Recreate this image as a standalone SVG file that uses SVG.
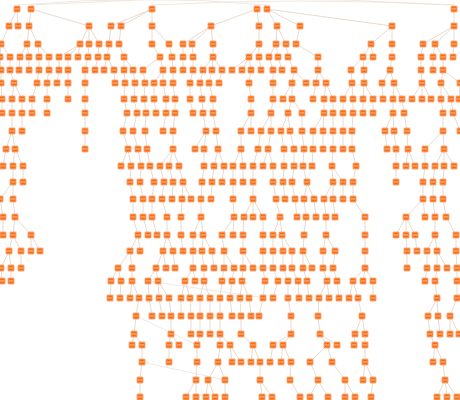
<svg xmlns="http://www.w3.org/2000/svg" xmlns:xlink="http://www.w3.org/1999/xlink" width="460" height="400" viewBox="0 0 460 400">
<style>
.e{fill:none;stroke:#e4d6ca;stroke-width:0.9}
.x{fill:none;stroke:#ece2d9;stroke-width:0.8}
</style>
<defs>
<g id="nd"><rect x="-3" y="-3" width="6" height="6" rx="0.5" fill="#fb6b12" stroke="#f8ac7c" stroke-width="1"/><rect x="-2" y="-0.6" width="4" height="1.1" fill="#fcb98c"/></g>
</defs>
<rect width="460" height="400" fill="#ffffff"/>
<g id="connectors">
<path class="x" d="M17 5Q150 -6 267 5M31 5Q240 -8 454 5M152 5Q300 -3 454 5M136 316L197 345M142 362L225 380M148 281L265 298"/>
<path class="e" d="M17 9L9 26M17 9L18 26M31 9L29 26M31 9L89 26M152 9L111 26M152 9L121 26M152 9L152 26M257 9L211 26M257 9L259 26M267 9L277 26M267 9L300 26M267 9L392 26M454 9L454 26"/>
<path class="e" d="M9 26L1 44M29 26L27 44M29 26L38 44M89 26L80 44M89 26L89 44M89 26L99 44M111 26L109 44M121 26L119 44M152 26L152 44M152 26L169 44M211 26L183 44M211 26L192 44M211 26L213 44M259 26L259 44M277 26L276 44M277 26L286 44M300 26L296 44M392 26L371 44M392 26L392 44M454 26L423 44M454 26L435 44M454 26L454 44"/>
<path class="e" d="M1 44L0 57M1 44L10 57M27 44L20 57M27 44L29 57M38 44L39 57M38 44L49 57M80 44L59 57M80 44L68 57M80 44L78 57M89 44L88 57M99 44L98 57M109 44L107 57M119 44L124 57M152 44L160 57M169 44L172 57M183 44L183 57M192 44L193 57M213 44L213 57M259 44L249 57M259 44L259 57M276 44L269 57M276 44L278 57M286 44L288 57M296 44L318 57M371 44L363 57M371 44L373 57M392 44L392 57M423 44L421 57M435 44L433 57M435 44L443 57M454 44L453 57"/>
<path class="e" d="M0 57L1 70M10 57L10 70M20 57L19 70M29 57L29 70M39 57L39 70M49 57L49 70M59 57L59 70M68 57L68 70M88 57L85 70M98 57L95 70M107 57L104 70M107 57L114 70M124 57L124 70M124 57L133 70M160 57L143 70M160 57L163 70M172 57L173 70M183 57L183 70M193 57L193 70M213 57L203 70M213 57L212 70M213 57L222 70M249 57L232 70M249 57L242 70M249 57L251 70M259 57L261 70M269 57L273 70M278 57L282 70M288 57L294 70M318 57L318 70M363 57L351 70M363 57L364 70M392 57L390 70M421 57L421 70M433 57L433 70M443 57L443 70"/>
<path class="e" d="M1 70L1 83M10 70L14 83M39 70L37 83M49 70L47 83M59 70L57 83M68 70L68 83M85 70L85 83M114 70L115 83M124 70L125 83M133 70L135 83M143 70L145 83M163 70L154 83M163 70L163 83M173 70L173 83M193 70L190 83M203 70L200 83M212 70L209 83M222 70L219 83M251 70L249 83M273 70L273 83M294 70L292 83M294 70L306 83M318 70L316 83M318 70L326 83M351 70L352 83M364 70L364 83M390 70L382 83M390 70L394 83M421 70L422 83M443 70L441 83M443 70L460 83"/>
<path class="e" d="M1 83L2 99M14 83L12 99M14 83L22 99M37 83L32 99M47 83L47 99M68 83L68 99M85 83L85 99M125 83L124 99M135 83L134 99M145 83L144 99M154 83L154 99M163 83L166 99M173 83L175 99M190 83L190 99M200 83L202 99M209 83L213 99M249 83L251 99M273 83L273 99M292 83L283 99M292 83L292 99M316 83L313 99M326 83L324 99M326 83L333 99M352 83L343 99M352 83L353 99M364 83L363 99M364 83L373 99M382 83L383 99M394 83L393 99M394 83L402 99M422 83L412 99M422 83L422 99M422 83L431 99M441 83L441 99M441 83L451 99M460 83L459 99"/>
<path class="e" d="M2 99L2 113M12 99L12 113M22 99L22 113M32 99L32 113M47 99L47 113M85 99L85 113M124 99L127 113M134 99L137 113M144 99L146 113M154 99L156 113M166 99L166 113M175 99L175 113M190 99L193 113M202 99L203 113M213 99L213 113M251 99L251 113M273 99L271 113M292 99L288 113M292 99L302 113M324 99L324 113M333 99L333 113M343 99L343 113M353 99L353 113M363 99L363 113M373 99L373 113M393 99L393 113M402 99L404 113M441 99L443 113M451 99L453 113"/>
<path class="e" d="M12 113L12 131M22 113L22 131M85 113L85 131M127 113L123 131M137 113L133 131M146 113L145 131M166 113L163 131M175 113L173 131M203 113L206 131M213 113L216 131M251 113L241 131M251 113L251 131M271 113L261 131M271 113L271 131M288 113L281 131M288 113L290 131M302 113L302 131M324 113L313 131M324 113L323 131M333 113L333 131M343 113L343 131M353 113L352 131M393 113L385 131M393 113L394 131M404 113L407 131M443 113L443 131M453 113L460 131"/>
<path class="e" d="M12 131L6 149M12 131L15 149M85 131L85 149M123 131L128 149M133 131L138 149M145 131L147 149M173 131L173 149M206 131L195 149M206 131L204 149M216 131L218 149M241 131L241 149M261 131L258 149M271 131L268 149M281 131L284 149M290 131L294 149M302 131L304 149M313 131L313 149M323 131L323 149M333 131L333 149M343 131L343 149M352 131L352 149M385 131L387 149M394 131L396 149M407 131L408 149M443 131L425 149M443 131L444 149"/>
<path class="e" d="M6 149L3 166M15 149L13 166M15 149L23 166M128 149L121 166M128 149L131 166M138 149L141 166M147 149L150 166M173 149L160 166M173 149L169 166M173 149L179 166M204 149L204 166M218 149L214 166M218 149L224 166M241 149L233 166M241 149L243 166M258 149L253 166M268 149L263 166M268 149L273 166M284 149L284 166M294 149L294 166M304 149L303 166M313 149L312 166M333 149L332 166M352 149L356 166M396 149L396 166M408 149L406 166M408 149L415 166M425 149L425 166M444 149L435 166M444 149L444 166M444 149L454 166"/>
<path class="e" d="M13 166L13 182M23 166L23 182M131 166L130 182M141 166L140 182M150 166L154 182M160 166L164 182M169 166L173 182M179 166L183 182M204 166L202 182M214 166L212 182M224 166L222 182M233 166L233 182M243 166L243 182M253 166L253 182M273 166L273 182M284 166L283 182M294 166L292 182M303 166L307 182M332 166L333 182M332 166L343 182M356 166L353 182M396 166L396 182M425 166L423 182M435 166L433 182M444 166L443 182"/>
<path class="e" d="M13 182L0 199M13 182L13 199M130 182L133 199M140 182L143 199M154 182L152 199M164 182L162 199M173 182L172 199M183 182L182 199M183 182L191 199M202 182L201 199M212 182L211 199M233 182L233 199M253 182L253 199M273 182L276 199M283 182L285 199M292 182L295 199M307 182L304 199M307 182L314 199M333 182L324 199M333 182L333 199M343 182L343 199M353 182L353 199M423 182L423 199M433 182L433 199M443 182L443 199"/>
<path class="e" d="M0 199L3 217M13 199L15 217M133 199L133 217M143 199L143 217M152 199L152 217M162 199L167 217M182 199L181 217M201 199L201 217M233 199L234 217M253 199L244 217M253 199L253 217M253 199L263 217M276 199L280 217M295 199L297 217M304 199L306 217M314 199L316 217M324 199L326 217M333 199L335 217M353 199L365 217M423 199L406 217M423 199L425 217M433 199L435 217M443 199L446 217"/>
<path class="e" d="M3 217L3 235M15 217L13 235M15 217L31 235M133 217L138 235M143 217L148 235M152 217L157 235M167 217L167 235M181 217L181 235M201 217L193 235M201 217L203 235M234 217L222 235M234 217L233 235M244 217L243 235M263 217L263 235M280 217L273 235M280 217L282 235M306 217L304 235M326 217L326 235M365 217L365 235M406 217L396 235M406 217L406 235M406 217L415 235M435 217L435 235M446 217L456 235"/>
<path class="e" d="M13 235L9 251M13 235L21 251M31 235L31 251M31 235L40 251M138 235L130 251M138 235L140 251M167 235L163 251M167 235L173 251M181 235L183 251M193 235L193 251M203 235L202 251M203 235L212 251M222 235L224 251M243 235L243 251M263 235L263 251M273 235L273 251M282 235L283 251M282 235L292 251M304 235L303 251M326 235L323 251M326 235L335 251M365 235L365 251M406 235L407 251M415 235L417 251M435 235L427 251M435 235L437 251M456 235L456 251"/>
<path class="e" d="M9 251L1 268M9 251L11 268M21 251L21 268M130 251L118 268M130 251L132 268M163 251L156 268M163 251L166 268M173 251L175 268M193 251L193 268M202 251L204 268M212 251L214 268M224 251L224 268M224 251L234 268M243 251L243 268M243 251L253 268M263 251L263 268M273 251L273 268M283 251L283 268M292 251L292 268M303 251L303 268M303 251L312 268M323 251L323 268M335 251L333 268M365 251L365 268M407 251L407 268M427 251L427 268M437 251L437 268M437 251L447 268M456 251L457 268"/>
<path class="e" d="M1 268L2 281M11 268L11 281M118 268L111 281M118 268L121 281M132 268L132 281M156 268L148 281M156 268L158 281M193 268L185 281M193 268L195 281M204 268L204 281M224 268L222 281M234 268L232 281M243 268L242 281M263 268L265 281M273 268L278 281M283 268L288 281M292 268L298 281M303 268L307 281M323 268L327 281M333 268L337 281M365 268L353 281M365 268L363 281M365 268L373 281M427 268L425 281M437 268L435 281M457 268L457 281"/>
<path class="e" d="M111 281L110 298M121 281L120 298M132 281L130 298M132 281L139 298M148 281L149 298M158 281L159 298M158 281L169 298M185 281L181 298M185 281L190 298M204 281L200 298M204 281L210 298M222 281L220 298M232 281L230 298M242 281L240 298M242 281L249 298M265 281L263 298M278 281L273 298M288 281L288 298M298 281L299 298M307 281L309 298M327 281L319 298M327 281L329 298M337 281L339 298M353 281L349 298M353 281L358 298M373 281L373 298M435 281L437 298M457 281L457 298"/>
<path class="e" d="M139 298L136 316M149 298L152 316M159 298L162 316M169 298L171 316M181 298L181 316M190 298L191 316M200 298L200 316M210 298L210 316M220 298L220 316M230 298L232 316M240 298L241 316M249 298L251 316M263 298L259 316M288 298L291 316M319 298L318 316M358 298L362 316M437 298L428 316M437 298L438 316M457 298L450 316"/>
<path class="e" d="M136 316L134 334M171 316L171 334M191 316L191 334M200 316L200 334M210 316L210 334M220 316L220 334M241 316L241 334M291 316L291 334M318 316L320 334M362 316L355 334M362 316L365 334M428 316L430 334M438 316L440 334M450 316L450 334M450 316L459 334"/>
<path class="e" d="M134 334L132 345M134 334L142 345M171 334L169 345M171 334L179 345M200 334L197 345M220 334L220 345M220 334L230 345M241 334L253 345M291 334L273 345M291 334L283 345M320 334L327 345M320 334L337 345M355 334L354 345M365 334L365 345M430 334L435 345"/>
<path class="e" d="M142 345L142 362M169 345L169 362M197 345L197 362M220 345L218 362M230 345L232 362M230 345L241 362M253 345L251 362M253 345L260 362M273 345L270 362M283 345L281 362M283 345L291 362M327 345L310 362M327 345L332 362M365 345L365 362M435 345L433 362M435 345L443 362"/>
<path class="e" d="M142 362L140 380M197 362L196 380M218 362L208 380M218 362L225 380M260 362L260 380M291 362L290 380M310 362L318 380M332 362L345 380M365 362L363 380M365 362L373 380M443 362L445 380"/>
<path class="e" d="M140 380L140 397M196 380L186 397M196 380L196 397M208 380L206 397M208 380L215 397M225 380L225 397M260 380L262 397M260 380L272 397M290 380L300 397M318 380L310 397M318 380L328 397M345 380L345 397M345 380L355 397M373 380L371 397M445 380L437 397M445 380L447 397M445 380L457 397"/>
</g>
<g id="nodes">
<g id="a1"><use href="#nd" x="17" y="9"/></g><g id="a2"><use href="#nd" x="31" y="9"/></g><g id="a3"><use href="#nd" x="152" y="9"/></g><g id="a4"><use href="#nd" x="257" y="9"/></g><g id="a5"><use href="#nd" x="267" y="9"/></g><g id="a6"><use href="#nd" x="454" y="9"/></g>
<g id="b1"><use href="#nd" x="9" y="26"/></g><g id="b2"><use href="#nd" x="18" y="26"/></g><g id="b3"><use href="#nd" x="29" y="26"/></g><g id="b4"><use href="#nd" x="89" y="26"/></g><g id="b5"><use href="#nd" x="111" y="26"/></g><g id="b6"><use href="#nd" x="121" y="26"/></g><g id="b7"><use href="#nd" x="152" y="26"/></g><g id="b8"><use href="#nd" x="211" y="26"/></g><g id="b9"><use href="#nd" x="259" y="26"/></g><g id="b10"><use href="#nd" x="277" y="26"/></g><g id="b11"><use href="#nd" x="300" y="26"/></g><g id="b12"><use href="#nd" x="392" y="26"/></g><g id="b13"><use href="#nd" x="454" y="26"/></g>
<g id="c1"><use href="#nd" x="1" y="44"/></g><g id="c2"><use href="#nd" x="27" y="44"/></g><g id="c3"><use href="#nd" x="38" y="44"/></g><g id="c4"><use href="#nd" x="80" y="44"/></g><g id="c5"><use href="#nd" x="89" y="44"/></g><g id="c6"><use href="#nd" x="99" y="44"/></g><g id="c7"><use href="#nd" x="109" y="44"/></g><g id="c8"><use href="#nd" x="119" y="44"/></g><g id="c9"><use href="#nd" x="152" y="44"/></g><g id="c10"><use href="#nd" x="169" y="44"/></g><g id="c11"><use href="#nd" x="183" y="44"/></g><g id="c12"><use href="#nd" x="192" y="44"/></g><g id="c13"><use href="#nd" x="213" y="44"/></g><g id="c14"><use href="#nd" x="259" y="44"/></g><g id="c15"><use href="#nd" x="276" y="44"/></g><g id="c16"><use href="#nd" x="286" y="44"/></g><g id="c17"><use href="#nd" x="296" y="44"/></g><g id="c18"><use href="#nd" x="371" y="44"/></g><g id="c19"><use href="#nd" x="392" y="44"/></g><g id="c20"><use href="#nd" x="423" y="44"/></g><g id="c21"><use href="#nd" x="435" y="44"/></g><g id="c22"><use href="#nd" x="454" y="44"/></g>
<g id="d1"><use href="#nd" x="0" y="57"/></g><g id="d2"><use href="#nd" x="10" y="57"/></g><g id="d3"><use href="#nd" x="20" y="57"/></g><g id="d4"><use href="#nd" x="29" y="57"/></g><g id="d5"><use href="#nd" x="39" y="57"/></g><g id="d6"><use href="#nd" x="49" y="57"/></g><g id="d7"><use href="#nd" x="59" y="57"/></g><g id="d8"><use href="#nd" x="68" y="57"/></g><g id="d9"><use href="#nd" x="78" y="57"/></g><g id="d10"><use href="#nd" x="88" y="57"/></g><g id="d11"><use href="#nd" x="98" y="57"/></g><g id="d12"><use href="#nd" x="107" y="57"/></g><g id="d13"><use href="#nd" x="124" y="57"/></g><g id="d14"><use href="#nd" x="160" y="57"/></g><g id="d15"><use href="#nd" x="172" y="57"/></g><g id="d16"><use href="#nd" x="183" y="57"/></g><g id="d17"><use href="#nd" x="193" y="57"/></g><g id="d18"><use href="#nd" x="213" y="57"/></g><g id="d19"><use href="#nd" x="249" y="57"/></g><g id="d20"><use href="#nd" x="259" y="57"/></g><g id="d21"><use href="#nd" x="269" y="57"/></g><g id="d22"><use href="#nd" x="278" y="57"/></g><g id="d23"><use href="#nd" x="288" y="57"/></g><g id="d24"><use href="#nd" x="318" y="57"/></g><g id="d25"><use href="#nd" x="363" y="57"/></g><g id="d26"><use href="#nd" x="373" y="57"/></g><g id="d27"><use href="#nd" x="392" y="57"/></g><g id="d28"><use href="#nd" x="421" y="57"/></g><g id="d29"><use href="#nd" x="433" y="57"/></g><g id="d30"><use href="#nd" x="443" y="57"/></g><g id="d31"><use href="#nd" x="453" y="57"/></g>
<g id="e1"><use href="#nd" x="1" y="70"/></g><g id="e2"><use href="#nd" x="10" y="70"/></g><g id="e3"><use href="#nd" x="19" y="70"/></g><g id="e4"><use href="#nd" x="29" y="70"/></g><g id="e5"><use href="#nd" x="39" y="70"/></g><g id="e6"><use href="#nd" x="49" y="70"/></g><g id="e7"><use href="#nd" x="59" y="70"/></g><g id="e8"><use href="#nd" x="68" y="70"/></g><g id="e9"><use href="#nd" x="85" y="70"/></g><g id="e10"><use href="#nd" x="95" y="70"/></g><g id="e11"><use href="#nd" x="104" y="70"/></g><g id="e12"><use href="#nd" x="114" y="70"/></g><g id="e13"><use href="#nd" x="124" y="70"/></g><g id="e14"><use href="#nd" x="133" y="70"/></g><g id="e15"><use href="#nd" x="143" y="70"/></g><g id="e16"><use href="#nd" x="163" y="70"/></g><g id="e17"><use href="#nd" x="173" y="70"/></g><g id="e18"><use href="#nd" x="183" y="70"/></g><g id="e19"><use href="#nd" x="193" y="70"/></g><g id="e20"><use href="#nd" x="203" y="70"/></g><g id="e21"><use href="#nd" x="212" y="70"/></g><g id="e22"><use href="#nd" x="222" y="70"/></g><g id="e23"><use href="#nd" x="232" y="70"/></g><g id="e24"><use href="#nd" x="242" y="70"/></g><g id="e25"><use href="#nd" x="251" y="70"/></g><g id="e26"><use href="#nd" x="261" y="70"/></g><g id="e27"><use href="#nd" x="273" y="70"/></g><g id="e28"><use href="#nd" x="282" y="70"/></g><g id="e29"><use href="#nd" x="294" y="70"/></g><g id="e30"><use href="#nd" x="318" y="70"/></g><g id="e31"><use href="#nd" x="351" y="70"/></g><g id="e32"><use href="#nd" x="364" y="70"/></g><g id="e33"><use href="#nd" x="390" y="70"/></g><g id="e34"><use href="#nd" x="421" y="70"/></g><g id="e35"><use href="#nd" x="433" y="70"/></g><g id="e36"><use href="#nd" x="443" y="70"/></g>
<g id="f1"><use href="#nd" x="1" y="83"/></g><g id="f2"><use href="#nd" x="14" y="83"/></g><g id="f3"><use href="#nd" x="37" y="83"/></g><g id="f4"><use href="#nd" x="47" y="83"/></g><g id="f5"><use href="#nd" x="57" y="83"/></g><g id="f6"><use href="#nd" x="68" y="83"/></g><g id="f7"><use href="#nd" x="85" y="83"/></g><g id="f8"><use href="#nd" x="115" y="83"/></g><g id="f9"><use href="#nd" x="125" y="83"/></g><g id="f10"><use href="#nd" x="135" y="83"/></g><g id="f11"><use href="#nd" x="145" y="83"/></g><g id="f12"><use href="#nd" x="154" y="83"/></g><g id="f13"><use href="#nd" x="163" y="83"/></g><g id="f14"><use href="#nd" x="173" y="83"/></g><g id="f15"><use href="#nd" x="190" y="83"/></g><g id="f16"><use href="#nd" x="200" y="83"/></g><g id="f17"><use href="#nd" x="209" y="83"/></g><g id="f18"><use href="#nd" x="219" y="83"/></g><g id="f19"><use href="#nd" x="249" y="83"/></g><g id="f20"><use href="#nd" x="273" y="83"/></g><g id="f21"><use href="#nd" x="292" y="83"/></g><g id="f22"><use href="#nd" x="306" y="83"/></g><g id="f23"><use href="#nd" x="316" y="83"/></g><g id="f24"><use href="#nd" x="326" y="83"/></g><g id="f25"><use href="#nd" x="352" y="83"/></g><g id="f26"><use href="#nd" x="364" y="83"/></g><g id="f27"><use href="#nd" x="382" y="83"/></g><g id="f28"><use href="#nd" x="394" y="83"/></g><g id="f29"><use href="#nd" x="422" y="83"/></g><g id="f30"><use href="#nd" x="441" y="83"/></g><g id="f31"><use href="#nd" x="460" y="83"/></g>
<g id="g1"><use href="#nd" x="2" y="99"/></g><g id="g2"><use href="#nd" x="12" y="99"/></g><g id="g3"><use href="#nd" x="22" y="99"/></g><g id="g4"><use href="#nd" x="32" y="99"/></g><g id="g5"><use href="#nd" x="47" y="99"/></g><g id="g6"><use href="#nd" x="68" y="99"/></g><g id="g7"><use href="#nd" x="85" y="99"/></g><g id="g8"><use href="#nd" x="124" y="99"/></g><g id="g9"><use href="#nd" x="134" y="99"/></g><g id="g10"><use href="#nd" x="144" y="99"/></g><g id="g11"><use href="#nd" x="154" y="99"/></g><g id="g12"><use href="#nd" x="166" y="99"/></g><g id="g13"><use href="#nd" x="175" y="99"/></g><g id="g14"><use href="#nd" x="190" y="99"/></g><g id="g15"><use href="#nd" x="202" y="99"/></g><g id="g16"><use href="#nd" x="213" y="99"/></g><g id="g17"><use href="#nd" x="251" y="99"/></g><g id="g18"><use href="#nd" x="273" y="99"/></g><g id="g19"><use href="#nd" x="283" y="99"/></g><g id="g20"><use href="#nd" x="292" y="99"/></g><g id="g21"><use href="#nd" x="313" y="99"/></g><g id="g22"><use href="#nd" x="324" y="99"/></g><g id="g23"><use href="#nd" x="333" y="99"/></g><g id="g24"><use href="#nd" x="343" y="99"/></g><g id="g25"><use href="#nd" x="353" y="99"/></g><g id="g26"><use href="#nd" x="363" y="99"/></g><g id="g27"><use href="#nd" x="373" y="99"/></g><g id="g28"><use href="#nd" x="383" y="99"/></g><g id="g29"><use href="#nd" x="393" y="99"/></g><g id="g30"><use href="#nd" x="402" y="99"/></g><g id="g31"><use href="#nd" x="412" y="99"/></g><g id="g32"><use href="#nd" x="422" y="99"/></g><g id="g33"><use href="#nd" x="431" y="99"/></g><g id="g34"><use href="#nd" x="441" y="99"/></g><g id="g35"><use href="#nd" x="451" y="99"/></g><g id="g36"><use href="#nd" x="459" y="99"/></g>
<g id="h1"><use href="#nd" x="2" y="113"/></g><g id="h2"><use href="#nd" x="12" y="113"/></g><g id="h3"><use href="#nd" x="22" y="113"/></g><g id="h4"><use href="#nd" x="32" y="113"/></g><g id="h5"><use href="#nd" x="47" y="113"/></g><g id="h6"><use href="#nd" x="85" y="113"/></g><g id="h7"><use href="#nd" x="127" y="113"/></g><g id="h8"><use href="#nd" x="137" y="113"/></g><g id="h9"><use href="#nd" x="146" y="113"/></g><g id="h10"><use href="#nd" x="156" y="113"/></g><g id="h11"><use href="#nd" x="166" y="113"/></g><g id="h12"><use href="#nd" x="175" y="113"/></g><g id="h13"><use href="#nd" x="193" y="113"/></g><g id="h14"><use href="#nd" x="203" y="113"/></g><g id="h15"><use href="#nd" x="213" y="113"/></g><g id="h16"><use href="#nd" x="251" y="113"/></g><g id="h17"><use href="#nd" x="271" y="113"/></g><g id="h18"><use href="#nd" x="288" y="113"/></g><g id="h19"><use href="#nd" x="302" y="113"/></g><g id="h20"><use href="#nd" x="324" y="113"/></g><g id="h21"><use href="#nd" x="333" y="113"/></g><g id="h22"><use href="#nd" x="343" y="113"/></g><g id="h23"><use href="#nd" x="353" y="113"/></g><g id="h24"><use href="#nd" x="363" y="113"/></g><g id="h25"><use href="#nd" x="373" y="113"/></g><g id="h26"><use href="#nd" x="393" y="113"/></g><g id="h27"><use href="#nd" x="404" y="113"/></g><g id="h28"><use href="#nd" x="443" y="113"/></g><g id="h29"><use href="#nd" x="453" y="113"/></g>
<g id="i1"><use href="#nd" x="12" y="131"/></g><g id="i2"><use href="#nd" x="22" y="131"/></g><g id="i3"><use href="#nd" x="85" y="131"/></g><g id="i4"><use href="#nd" x="123" y="131"/></g><g id="i5"><use href="#nd" x="133" y="131"/></g><g id="i6"><use href="#nd" x="145" y="131"/></g><g id="i7"><use href="#nd" x="163" y="131"/></g><g id="i8"><use href="#nd" x="173" y="131"/></g><g id="i9"><use href="#nd" x="206" y="131"/></g><g id="i10"><use href="#nd" x="216" y="131"/></g><g id="i11"><use href="#nd" x="241" y="131"/></g><g id="i12"><use href="#nd" x="251" y="131"/></g><g id="i13"><use href="#nd" x="261" y="131"/></g><g id="i14"><use href="#nd" x="271" y="131"/></g><g id="i15"><use href="#nd" x="281" y="131"/></g><g id="i16"><use href="#nd" x="290" y="131"/></g><g id="i17"><use href="#nd" x="302" y="131"/></g><g id="i18"><use href="#nd" x="313" y="131"/></g><g id="i19"><use href="#nd" x="323" y="131"/></g><g id="i20"><use href="#nd" x="333" y="131"/></g><g id="i21"><use href="#nd" x="343" y="131"/></g><g id="i22"><use href="#nd" x="352" y="131"/></g><g id="i23"><use href="#nd" x="385" y="131"/></g><g id="i24"><use href="#nd" x="394" y="131"/></g><g id="i25"><use href="#nd" x="407" y="131"/></g><g id="i26"><use href="#nd" x="443" y="131"/></g><g id="i27"><use href="#nd" x="460" y="131"/></g>
<g id="j1"><use href="#nd" x="6" y="149"/></g><g id="j2"><use href="#nd" x="15" y="149"/></g><g id="j3"><use href="#nd" x="85" y="149"/></g><g id="j4"><use href="#nd" x="128" y="149"/></g><g id="j5"><use href="#nd" x="138" y="149"/></g><g id="j6"><use href="#nd" x="147" y="149"/></g><g id="j7"><use href="#nd" x="173" y="149"/></g><g id="j8"><use href="#nd" x="195" y="149"/></g><g id="j9"><use href="#nd" x="204" y="149"/></g><g id="j10"><use href="#nd" x="218" y="149"/></g><g id="j11"><use href="#nd" x="241" y="149"/></g><g id="j12"><use href="#nd" x="258" y="149"/></g><g id="j13"><use href="#nd" x="268" y="149"/></g><g id="j14"><use href="#nd" x="284" y="149"/></g><g id="j15"><use href="#nd" x="294" y="149"/></g><g id="j16"><use href="#nd" x="304" y="149"/></g><g id="j17"><use href="#nd" x="313" y="149"/></g><g id="j18"><use href="#nd" x="323" y="149"/></g><g id="j19"><use href="#nd" x="333" y="149"/></g><g id="j20"><use href="#nd" x="343" y="149"/></g><g id="j21"><use href="#nd" x="352" y="149"/></g><g id="j22"><use href="#nd" x="387" y="149"/></g><g id="j23"><use href="#nd" x="396" y="149"/></g><g id="j24"><use href="#nd" x="408" y="149"/></g><g id="j25"><use href="#nd" x="425" y="149"/></g><g id="j26"><use href="#nd" x="444" y="149"/></g>
<g id="k1"><use href="#nd" x="3" y="166"/></g><g id="k2"><use href="#nd" x="13" y="166"/></g><g id="k3"><use href="#nd" x="23" y="166"/></g><g id="k4"><use href="#nd" x="121" y="166"/></g><g id="k5"><use href="#nd" x="131" y="166"/></g><g id="k6"><use href="#nd" x="141" y="166"/></g><g id="k7"><use href="#nd" x="150" y="166"/></g><g id="k8"><use href="#nd" x="160" y="166"/></g><g id="k9"><use href="#nd" x="169" y="166"/></g><g id="k10"><use href="#nd" x="179" y="166"/></g><g id="k11"><use href="#nd" x="204" y="166"/></g><g id="k12"><use href="#nd" x="214" y="166"/></g><g id="k13"><use href="#nd" x="224" y="166"/></g><g id="k14"><use href="#nd" x="233" y="166"/></g><g id="k15"><use href="#nd" x="243" y="166"/></g><g id="k16"><use href="#nd" x="253" y="166"/></g><g id="k17"><use href="#nd" x="263" y="166"/></g><g id="k18"><use href="#nd" x="273" y="166"/></g><g id="k19"><use href="#nd" x="284" y="166"/></g><g id="k20"><use href="#nd" x="294" y="166"/></g><g id="k21"><use href="#nd" x="303" y="166"/></g><g id="k22"><use href="#nd" x="312" y="166"/></g><g id="k23"><use href="#nd" x="332" y="166"/></g><g id="k24"><use href="#nd" x="356" y="166"/></g><g id="k25"><use href="#nd" x="396" y="166"/></g><g id="k26"><use href="#nd" x="406" y="166"/></g><g id="k27"><use href="#nd" x="415" y="166"/></g><g id="k28"><use href="#nd" x="425" y="166"/></g><g id="k29"><use href="#nd" x="435" y="166"/></g><g id="k30"><use href="#nd" x="444" y="166"/></g><g id="k31"><use href="#nd" x="454" y="166"/></g>
<g id="l1"><use href="#nd" x="13" y="182"/></g><g id="l2"><use href="#nd" x="23" y="182"/></g><g id="l3"><use href="#nd" x="130" y="182"/></g><g id="l4"><use href="#nd" x="140" y="182"/></g><g id="l5"><use href="#nd" x="154" y="182"/></g><g id="l6"><use href="#nd" x="164" y="182"/></g><g id="l7"><use href="#nd" x="173" y="182"/></g><g id="l8"><use href="#nd" x="183" y="182"/></g><g id="l9"><use href="#nd" x="202" y="182"/></g><g id="l10"><use href="#nd" x="212" y="182"/></g><g id="l11"><use href="#nd" x="222" y="182"/></g><g id="l12"><use href="#nd" x="233" y="182"/></g><g id="l13"><use href="#nd" x="243" y="182"/></g><g id="l14"><use href="#nd" x="253" y="182"/></g><g id="l15"><use href="#nd" x="273" y="182"/></g><g id="l16"><use href="#nd" x="283" y="182"/></g><g id="l17"><use href="#nd" x="292" y="182"/></g><g id="l18"><use href="#nd" x="307" y="182"/></g><g id="l19"><use href="#nd" x="333" y="182"/></g><g id="l20"><use href="#nd" x="343" y="182"/></g><g id="l21"><use href="#nd" x="353" y="182"/></g><g id="l22"><use href="#nd" x="396" y="182"/></g><g id="l23"><use href="#nd" x="423" y="182"/></g><g id="l24"><use href="#nd" x="433" y="182"/></g><g id="l25"><use href="#nd" x="443" y="182"/></g>
<g id="m1"><use href="#nd" x="0" y="199"/></g><g id="m2"><use href="#nd" x="13" y="199"/></g><g id="m3"><use href="#nd" x="133" y="199"/></g><g id="m4"><use href="#nd" x="143" y="199"/></g><g id="m5"><use href="#nd" x="152" y="199"/></g><g id="m6"><use href="#nd" x="162" y="199"/></g><g id="m7"><use href="#nd" x="172" y="199"/></g><g id="m8"><use href="#nd" x="182" y="199"/></g><g id="m9"><use href="#nd" x="191" y="199"/></g><g id="m10"><use href="#nd" x="201" y="199"/></g><g id="m11"><use href="#nd" x="211" y="199"/></g><g id="m12"><use href="#nd" x="233" y="199"/></g><g id="m13"><use href="#nd" x="253" y="199"/></g><g id="m14"><use href="#nd" x="276" y="199"/></g><g id="m15"><use href="#nd" x="285" y="199"/></g><g id="m16"><use href="#nd" x="295" y="199"/></g><g id="m17"><use href="#nd" x="304" y="199"/></g><g id="m18"><use href="#nd" x="314" y="199"/></g><g id="m19"><use href="#nd" x="324" y="199"/></g><g id="m20"><use href="#nd" x="333" y="199"/></g><g id="m21"><use href="#nd" x="343" y="199"/></g><g id="m22"><use href="#nd" x="353" y="199"/></g><g id="m23"><use href="#nd" x="423" y="199"/></g><g id="m24"><use href="#nd" x="433" y="199"/></g><g id="m25"><use href="#nd" x="443" y="199"/></g>
<g id="n1"><use href="#nd" x="3" y="217"/></g><g id="n2"><use href="#nd" x="15" y="217"/></g><g id="n3"><use href="#nd" x="133" y="217"/></g><g id="n4"><use href="#nd" x="143" y="217"/></g><g id="n5"><use href="#nd" x="152" y="217"/></g><g id="n6"><use href="#nd" x="167" y="217"/></g><g id="n7"><use href="#nd" x="181" y="217"/></g><g id="n8"><use href="#nd" x="201" y="217"/></g><g id="n9"><use href="#nd" x="234" y="217"/></g><g id="n10"><use href="#nd" x="244" y="217"/></g><g id="n11"><use href="#nd" x="253" y="217"/></g><g id="n12"><use href="#nd" x="263" y="217"/></g><g id="n13"><use href="#nd" x="280" y="217"/></g><g id="n14"><use href="#nd" x="297" y="217"/></g><g id="n15"><use href="#nd" x="306" y="217"/></g><g id="n16"><use href="#nd" x="316" y="217"/></g><g id="n17"><use href="#nd" x="326" y="217"/></g><g id="n18"><use href="#nd" x="335" y="217"/></g><g id="n19"><use href="#nd" x="365" y="217"/></g><g id="n20"><use href="#nd" x="406" y="217"/></g><g id="n21"><use href="#nd" x="425" y="217"/></g><g id="n22"><use href="#nd" x="435" y="217"/></g><g id="n23"><use href="#nd" x="446" y="217"/></g>
<g id="o1"><use href="#nd" x="3" y="235"/></g><g id="o2"><use href="#nd" x="13" y="235"/></g><g id="o3"><use href="#nd" x="31" y="235"/></g><g id="o4"><use href="#nd" x="138" y="235"/></g><g id="o5"><use href="#nd" x="148" y="235"/></g><g id="o6"><use href="#nd" x="157" y="235"/></g><g id="o7"><use href="#nd" x="167" y="235"/></g><g id="o8"><use href="#nd" x="181" y="235"/></g><g id="o9"><use href="#nd" x="193" y="235"/></g><g id="o10"><use href="#nd" x="203" y="235"/></g><g id="o11"><use href="#nd" x="222" y="235"/></g><g id="o12"><use href="#nd" x="233" y="235"/></g><g id="o13"><use href="#nd" x="243" y="235"/></g><g id="o14"><use href="#nd" x="263" y="235"/></g><g id="o15"><use href="#nd" x="273" y="235"/></g><g id="o16"><use href="#nd" x="282" y="235"/></g><g id="o17"><use href="#nd" x="304" y="235"/></g><g id="o18"><use href="#nd" x="326" y="235"/></g><g id="o19"><use href="#nd" x="365" y="235"/></g><g id="o20"><use href="#nd" x="396" y="235"/></g><g id="o21"><use href="#nd" x="406" y="235"/></g><g id="o22"><use href="#nd" x="415" y="235"/></g><g id="o23"><use href="#nd" x="435" y="235"/></g><g id="o24"><use href="#nd" x="456" y="235"/></g>
<g id="p1"><use href="#nd" x="9" y="251"/></g><g id="p2"><use href="#nd" x="21" y="251"/></g><g id="p3"><use href="#nd" x="31" y="251"/></g><g id="p4"><use href="#nd" x="40" y="251"/></g><g id="p5"><use href="#nd" x="130" y="251"/></g><g id="p6"><use href="#nd" x="140" y="251"/></g><g id="p7"><use href="#nd" x="163" y="251"/></g><g id="p8"><use href="#nd" x="173" y="251"/></g><g id="p9"><use href="#nd" x="183" y="251"/></g><g id="p10"><use href="#nd" x="193" y="251"/></g><g id="p11"><use href="#nd" x="202" y="251"/></g><g id="p12"><use href="#nd" x="212" y="251"/></g><g id="p13"><use href="#nd" x="224" y="251"/></g><g id="p14"><use href="#nd" x="243" y="251"/></g><g id="p15"><use href="#nd" x="263" y="251"/></g><g id="p16"><use href="#nd" x="273" y="251"/></g><g id="p17"><use href="#nd" x="283" y="251"/></g><g id="p18"><use href="#nd" x="292" y="251"/></g><g id="p19"><use href="#nd" x="303" y="251"/></g><g id="p20"><use href="#nd" x="323" y="251"/></g><g id="p21"><use href="#nd" x="335" y="251"/></g><g id="p22"><use href="#nd" x="365" y="251"/></g><g id="p23"><use href="#nd" x="407" y="251"/></g><g id="p24"><use href="#nd" x="417" y="251"/></g><g id="p25"><use href="#nd" x="427" y="251"/></g><g id="p26"><use href="#nd" x="437" y="251"/></g><g id="p27"><use href="#nd" x="456" y="251"/></g>
<g id="q1"><use href="#nd" x="1" y="268"/></g><g id="q2"><use href="#nd" x="11" y="268"/></g><g id="q3"><use href="#nd" x="21" y="268"/></g><g id="q4"><use href="#nd" x="118" y="268"/></g><g id="q5"><use href="#nd" x="132" y="268"/></g><g id="q6"><use href="#nd" x="156" y="268"/></g><g id="q7"><use href="#nd" x="166" y="268"/></g><g id="q8"><use href="#nd" x="175" y="268"/></g><g id="q9"><use href="#nd" x="193" y="268"/></g><g id="q10"><use href="#nd" x="204" y="268"/></g><g id="q11"><use href="#nd" x="214" y="268"/></g><g id="q12"><use href="#nd" x="224" y="268"/></g><g id="q13"><use href="#nd" x="234" y="268"/></g><g id="q14"><use href="#nd" x="243" y="268"/></g><g id="q15"><use href="#nd" x="253" y="268"/></g><g id="q16"><use href="#nd" x="263" y="268"/></g><g id="q17"><use href="#nd" x="273" y="268"/></g><g id="q18"><use href="#nd" x="283" y="268"/></g><g id="q19"><use href="#nd" x="292" y="268"/></g><g id="q20"><use href="#nd" x="303" y="268"/></g><g id="q21"><use href="#nd" x="312" y="268"/></g><g id="q22"><use href="#nd" x="323" y="268"/></g><g id="q23"><use href="#nd" x="333" y="268"/></g><g id="q24"><use href="#nd" x="365" y="268"/></g><g id="q25"><use href="#nd" x="407" y="268"/></g><g id="q26"><use href="#nd" x="427" y="268"/></g><g id="q27"><use href="#nd" x="437" y="268"/></g><g id="q28"><use href="#nd" x="447" y="268"/></g><g id="q29"><use href="#nd" x="457" y="268"/></g>
<g id="r1"><use href="#nd" x="2" y="281"/></g><g id="r2"><use href="#nd" x="11" y="281"/></g><g id="r3"><use href="#nd" x="111" y="281"/></g><g id="r4"><use href="#nd" x="121" y="281"/></g><g id="r5"><use href="#nd" x="132" y="281"/></g><g id="r6"><use href="#nd" x="148" y="281"/></g><g id="r7"><use href="#nd" x="158" y="281"/></g><g id="r8"><use href="#nd" x="185" y="281"/></g><g id="r9"><use href="#nd" x="195" y="281"/></g><g id="r10"><use href="#nd" x="204" y="281"/></g><g id="r11"><use href="#nd" x="222" y="281"/></g><g id="r12"><use href="#nd" x="232" y="281"/></g><g id="r13"><use href="#nd" x="242" y="281"/></g><g id="r14"><use href="#nd" x="265" y="281"/></g><g id="r15"><use href="#nd" x="278" y="281"/></g><g id="r16"><use href="#nd" x="288" y="281"/></g><g id="r17"><use href="#nd" x="298" y="281"/></g><g id="r18"><use href="#nd" x="307" y="281"/></g><g id="r19"><use href="#nd" x="327" y="281"/></g><g id="r20"><use href="#nd" x="337" y="281"/></g><g id="r21"><use href="#nd" x="353" y="281"/></g><g id="r22"><use href="#nd" x="363" y="281"/></g><g id="r23"><use href="#nd" x="373" y="281"/></g><g id="r24"><use href="#nd" x="425" y="281"/></g><g id="r25"><use href="#nd" x="435" y="281"/></g><g id="r26"><use href="#nd" x="457" y="281"/></g>
<g id="s1"><use href="#nd" x="110" y="298"/></g><g id="s2"><use href="#nd" x="120" y="298"/></g><g id="s3"><use href="#nd" x="130" y="298"/></g><g id="s4"><use href="#nd" x="139" y="298"/></g><g id="s5"><use href="#nd" x="149" y="298"/></g><g id="s6"><use href="#nd" x="159" y="298"/></g><g id="s7"><use href="#nd" x="169" y="298"/></g><g id="s8"><use href="#nd" x="181" y="298"/></g><g id="s9"><use href="#nd" x="190" y="298"/></g><g id="s10"><use href="#nd" x="200" y="298"/></g><g id="s11"><use href="#nd" x="210" y="298"/></g><g id="s12"><use href="#nd" x="220" y="298"/></g><g id="s13"><use href="#nd" x="230" y="298"/></g><g id="s14"><use href="#nd" x="240" y="298"/></g><g id="s15"><use href="#nd" x="249" y="298"/></g><g id="s16"><use href="#nd" x="263" y="298"/></g><g id="s17"><use href="#nd" x="273" y="298"/></g><g id="s18"><use href="#nd" x="288" y="298"/></g><g id="s19"><use href="#nd" x="299" y="298"/></g><g id="s20"><use href="#nd" x="309" y="298"/></g><g id="s21"><use href="#nd" x="319" y="298"/></g><g id="s22"><use href="#nd" x="329" y="298"/></g><g id="s23"><use href="#nd" x="339" y="298"/></g><g id="s24"><use href="#nd" x="349" y="298"/></g><g id="s25"><use href="#nd" x="358" y="298"/></g><g id="s26"><use href="#nd" x="373" y="298"/></g><g id="s27"><use href="#nd" x="437" y="298"/></g><g id="s28"><use href="#nd" x="457" y="298"/></g>
<g id="t1"><use href="#nd" x="136" y="316"/></g><g id="t2"><use href="#nd" x="152" y="316"/></g><g id="t3"><use href="#nd" x="162" y="316"/></g><g id="t4"><use href="#nd" x="171" y="316"/></g><g id="t5"><use href="#nd" x="181" y="316"/></g><g id="t6"><use href="#nd" x="191" y="316"/></g><g id="t7"><use href="#nd" x="200" y="316"/></g><g id="t8"><use href="#nd" x="210" y="316"/></g><g id="t9"><use href="#nd" x="220" y="316"/></g><g id="t10"><use href="#nd" x="232" y="316"/></g><g id="t11"><use href="#nd" x="241" y="316"/></g><g id="t12"><use href="#nd" x="251" y="316"/></g><g id="t13"><use href="#nd" x="259" y="316"/></g><g id="t14"><use href="#nd" x="291" y="316"/></g><g id="t15"><use href="#nd" x="318" y="316"/></g><g id="t16"><use href="#nd" x="362" y="316"/></g><g id="t17"><use href="#nd" x="428" y="316"/></g><g id="t18"><use href="#nd" x="438" y="316"/></g><g id="t19"><use href="#nd" x="450" y="316"/></g>
<g id="u1"><use href="#nd" x="134" y="334"/></g><g id="u2"><use href="#nd" x="171" y="334"/></g><g id="u3"><use href="#nd" x="191" y="334"/></g><g id="u4"><use href="#nd" x="200" y="334"/></g><g id="u5"><use href="#nd" x="210" y="334"/></g><g id="u6"><use href="#nd" x="220" y="334"/></g><g id="u7"><use href="#nd" x="241" y="334"/></g><g id="u8"><use href="#nd" x="291" y="334"/></g><g id="u9"><use href="#nd" x="320" y="334"/></g><g id="u10"><use href="#nd" x="355" y="334"/></g><g id="u11"><use href="#nd" x="365" y="334"/></g><g id="u12"><use href="#nd" x="430" y="334"/></g><g id="u13"><use href="#nd" x="440" y="334"/></g><g id="u14"><use href="#nd" x="450" y="334"/></g><g id="u15"><use href="#nd" x="459" y="334"/></g>
<g id="v1"><use href="#nd" x="132" y="345"/></g><g id="v2"><use href="#nd" x="142" y="345"/></g><g id="v3"><use href="#nd" x="169" y="345"/></g><g id="v4"><use href="#nd" x="179" y="345"/></g><g id="v5"><use href="#nd" x="197" y="345"/></g><g id="v6"><use href="#nd" x="220" y="345"/></g><g id="v7"><use href="#nd" x="230" y="345"/></g><g id="v8"><use href="#nd" x="253" y="345"/></g><g id="v9"><use href="#nd" x="273" y="345"/></g><g id="v10"><use href="#nd" x="283" y="345"/></g><g id="v11"><use href="#nd" x="327" y="345"/></g><g id="v12"><use href="#nd" x="337" y="345"/></g><g id="v13"><use href="#nd" x="354" y="345"/></g><g id="v14"><use href="#nd" x="365" y="345"/></g><g id="v15"><use href="#nd" x="435" y="345"/></g>
<g id="w1"><use href="#nd" x="142" y="362"/></g><g id="w2"><use href="#nd" x="169" y="362"/></g><g id="w3"><use href="#nd" x="197" y="362"/></g><g id="w4"><use href="#nd" x="218" y="362"/></g><g id="w5"><use href="#nd" x="232" y="362"/></g><g id="w6"><use href="#nd" x="241" y="362"/></g><g id="w7"><use href="#nd" x="251" y="362"/></g><g id="w8"><use href="#nd" x="260" y="362"/></g><g id="w9"><use href="#nd" x="270" y="362"/></g><g id="w10"><use href="#nd" x="281" y="362"/></g><g id="w11"><use href="#nd" x="291" y="362"/></g><g id="w12"><use href="#nd" x="310" y="362"/></g><g id="w13"><use href="#nd" x="332" y="362"/></g><g id="w14"><use href="#nd" x="365" y="362"/></g><g id="w15"><use href="#nd" x="433" y="362"/></g><g id="w16"><use href="#nd" x="443" y="362"/></g>
<g id="x1"><use href="#nd" x="140" y="380"/></g><g id="x2"><use href="#nd" x="196" y="380"/></g><g id="x3"><use href="#nd" x="208" y="380"/></g><g id="x4"><use href="#nd" x="225" y="380"/></g><g id="x5"><use href="#nd" x="260" y="380"/></g><g id="x6"><use href="#nd" x="290" y="380"/></g><g id="x7"><use href="#nd" x="318" y="380"/></g><g id="x8"><use href="#nd" x="345" y="380"/></g><g id="x9"><use href="#nd" x="363" y="380"/></g><g id="x10"><use href="#nd" x="373" y="380"/></g><g id="x11"><use href="#nd" x="445" y="380"/></g>
<g id="y1"><use href="#nd" x="140" y="397"/></g><g id="y2"><use href="#nd" x="186" y="397"/></g><g id="y3"><use href="#nd" x="196" y="397"/></g><g id="y4"><use href="#nd" x="206" y="397"/></g><g id="y5"><use href="#nd" x="215" y="397"/></g><g id="y6"><use href="#nd" x="225" y="397"/></g><g id="y7"><use href="#nd" x="262" y="397"/></g><g id="y8"><use href="#nd" x="272" y="397"/></g><g id="y9"><use href="#nd" x="300" y="397"/></g><g id="y10"><use href="#nd" x="310" y="397"/></g><g id="y11"><use href="#nd" x="328" y="397"/></g><g id="y12"><use href="#nd" x="345" y="397"/></g><g id="y13"><use href="#nd" x="355" y="397"/></g><g id="y14"><use href="#nd" x="371" y="397"/></g><g id="y15"><use href="#nd" x="437" y="397"/></g><g id="y16"><use href="#nd" x="447" y="397"/></g><g id="y17"><use href="#nd" x="457" y="397"/></g>
</g>
</svg>
